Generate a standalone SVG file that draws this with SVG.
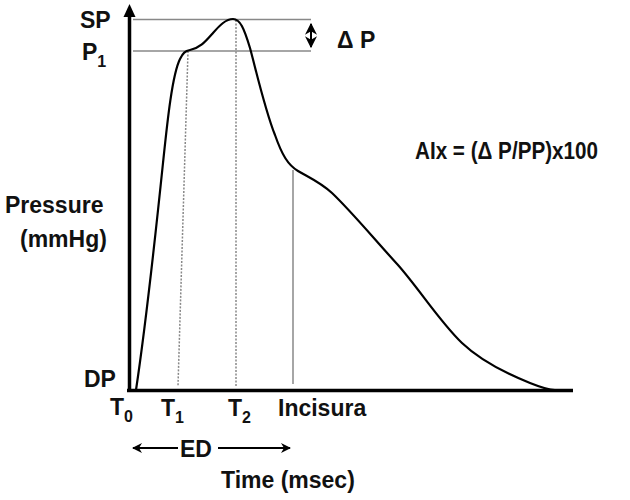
<svg xmlns="http://www.w3.org/2000/svg" width="630" height="500" viewBox="0 0 630 500">
<style>
text{font-family:"Liberation Sans",Arial,sans-serif;font-weight:bold;font-size:23px;fill:#111}
.sub{font-size:16px}
.ref{stroke:#888;stroke-width:1.5;fill:none}
.dot{stroke:#888;stroke-width:1.5;stroke-dasharray:2 1.5;fill:none}
.ax{stroke:#000;stroke-width:3.5;fill:none}
.arr{stroke:#000;stroke-width:2;fill:none}
</style>
<defs>
<marker id="ah" viewBox="0 0 10 10" refX="9" refY="5" markerWidth="5" markerHeight="5" orient="auto-start-reverse" markerUnits="strokeWidth">
<path d="M0,0 L10,5 L0,10 L3,5 z" fill="#000"/>
</marker>
<marker id="ahs" viewBox="0 0 10 10" refX="9" refY="5" markerWidth="6" markerHeight="6" orient="auto-start-reverse" markerUnits="strokeWidth">
<path d="M0,0 L10,5 L0,10 L3,5 z" fill="#000"/>
</marker>
</defs>
<g id="connectors">
<line class="ref" x1="133" y1="19.5" x2="311" y2="19.5"/>
<line class="ref" x1="133" y1="51" x2="311" y2="51"/>
<line class="arr" x1="311" y1="24" x2="311" y2="47" marker-start="url(#ahs)" marker-end="url(#ahs)"/>
<line class="dot" x1="188" y1="51" x2="178" y2="386"/>
<line class="dot" x1="236" y1="20" x2="236" y2="386"/>
<line class="ref" x1="293" y1="170" x2="293" y2="384"/>
<line class="arr" x1="178" y1="448" x2="133" y2="448" marker-end="url(#ah)"/>
<line class="arr" x1="218" y1="448" x2="290" y2="448" marker-end="url(#ah)"/>
</g>
<g id="axes">
<line class="ax" x1="127" y1="390.5" x2="573" y2="390.5"/>
<line class="ax" x1="129.5" y1="392" x2="129.5" y2="16"/>
<path d="M123.5,17 L129.5,4 L135.5,17 z" fill="#000"/>
</g>
<g id="curve">
<path d="M136,390 C145,330 155,240 163,163 C167,125 172,75 180,59 C183,53 185,51 190,50 C200,48 205,42 213,33 C220,25 226,19 233,19 C240,19 244,28 250,48 C256,70 265,110 275,135 C282,155 288,165 298,171 C310,178 320,182 332,193 C352,212 375,240 398,265 C420,290 440,322 462,343 C482,362 510,375 530,383 C540,387 548,390 555,390" fill="none" stroke="#000" stroke-width="2.2"/>
</g>
<g id="labels">
<text x="80" y="28">SP</text>
<text x="82" y="60">P<tspan class="sub" dy="7">1</tspan></text>
<text x="337" y="48">Δ P</text>
<text x="415" y="159" textLength="183" lengthAdjust="spacingAndGlyphs">AIx = (Δ P/PP)x100</text>
<text x="5" y="213">Pressure</text>
<text x="20" y="247">(mmHg)</text>
<text x="84" y="387">DP</text>
<text x="110" y="415">T<tspan class="sub" dy="7">0</tspan></text>
<text x="161" y="416">T<tspan class="sub" dy="7">1</tspan></text>
<text x="228" y="416">T<tspan class="sub" dy="7">2</tspan></text>
<text x="278" y="416">Incisura</text>
<text x="180" y="457">ED</text>
<text x="221" y="488">Time (msec)</text>
</g>
</svg>
